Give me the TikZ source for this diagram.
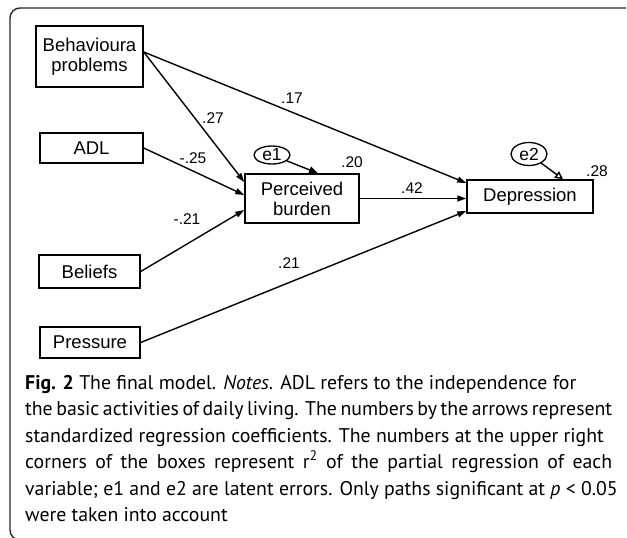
\documentclass[tikz,border=0pt]{standalone}
\usepackage{fontspec}
\setmainfont{Liberation Sans}
\newfontfamily\capfont{PT Sans}
\usetikzlibrary{arrows.meta,calc,shapes.geometric}
\begin{document}
\begin{tikzpicture}[x=1pt,y=-1pt,
 box/.style={draw, line width=1.5pt, inner sep=0pt, align=center, font=\fontsize{18.5}{21}\selectfont},
 err/.style={draw, ellipse, line width=1.3pt, inner sep=0pt, font=\fontsize{17.5}{19}\selectfont},
 pth/.style={line width=1.4pt, -{Triangle[length=9pt,width=6pt]}},
 epth/.style={line width=1.4pt, -{Triangle[open,length=8pt,width=8pt]}},
 coef/.style={inner sep=0pt, font=\fontsize{15.5}{17}\selectfont},
 captext/.style={anchor=base west, inner sep=0pt, font=\capfont\fontsize{19.8}{24}\selectfont}
]
\useasboundingbox (0,0) rectangle (627,538);
\draw[line width=1.4pt, black!85, rounded corners=10pt] (626,8) -- (10,8) -- (10,540) -- (40,540);

% boxes
\node[box, minimum width=107pt, minimum height=61pt] (bp) at (89.5,56.5) {Behavioura\\[-1pt]problems};
\node[box, minimum width=103pt, minimum height=30pt] (adl) at (91.5,148) {ADL};
\node[box, minimum width=101pt, minimum height=33pt] (bel) at (89.5,271.5) {Beliefs};
\node[box, minimum width=100pt, minimum height=31pt] (pre) at (90,342.5) {Pressure};
\node[box, minimum width=114pt, minimum height=49pt] (pb) at (302,198.5) {Perceived\\[-1pt]burden};
\node[box, minimum width=126pt, minimum height=33pt] (dep) at (530,196.5) {Depression};
\node[err, minimum width=36pt, minimum height=18pt] (e1) at (272,155) {e1};
\node[err, minimum width=36pt, minimum height=23pt] (e2) at (529,154) {e2};

% paths
\draw[pth] ($(bp.east)+(0,-4.5)$) -- ($(dep.west)+(0,-13.5)$);
\draw[pth] ($(bp.east)+(0,-4.5)$) -- ($(pb.west)+(0,-16.5)$);
\draw[pth] (adl.east) -- ($(pb.west)+(0,-3.5)$);
\draw[pth] (bel.east) -- ($(pb.west)+(0,11.5)$);
\draw[pth] (pb.east) -- (dep.west |- pb.east);
\draw[pth] (pre.east) -- ($(dep.west)+(0,14.5)$);
\draw[line width=1.4pt, -{Triangle[length=9pt,width=7pt]}] (e1) -- ($(pb.north)+(16,0)$);
\draw[epth] (e2) -- ($(dep.north)+(33,0)$);

% coefficients
\node[coef] (c17) at (292,98) {.17};
\node[coef] (c27) at (213,118) {.27};
\node[coef] (c25) at (193,158) {-.25};
\node[coef] (c21n) at (187,219) {-.21};
\node[coef] (c42) at (412,188) {.42};
\node[coef] (c21) at (289,263) {.21};
\node[coef] (r20) at (352,162) {.20};
\node[coef] (r28) at (597,171) {.28};

% caption
\node[captext] (l1) at (25,389) {\textbf{Fig. 2} The final model. \textit{Notes.} ADL refers to the independence for};
\node[captext] (l2) at (25,415.5) {\makebox[587pt][s]{the basic activities of daily living. The numbers by the arrows represent}};
\node[captext] (l3) at (25,442) {standardized regression coefficients. The numbers at the upper right};
\node[captext] (l4) at (25,468.5) {\makebox[587pt][s]{corners of the boxes represent r\textsuperscript{2} of the partial regression of each}};
\node[captext] (l5) at (25,495) {variable; e1 and e2 are latent errors. Only paths significant at \textit{p} < 0.05};
\node[captext] (l6) at (25,521.5) {were taken into account};
\end{tikzpicture}
\end{document}
